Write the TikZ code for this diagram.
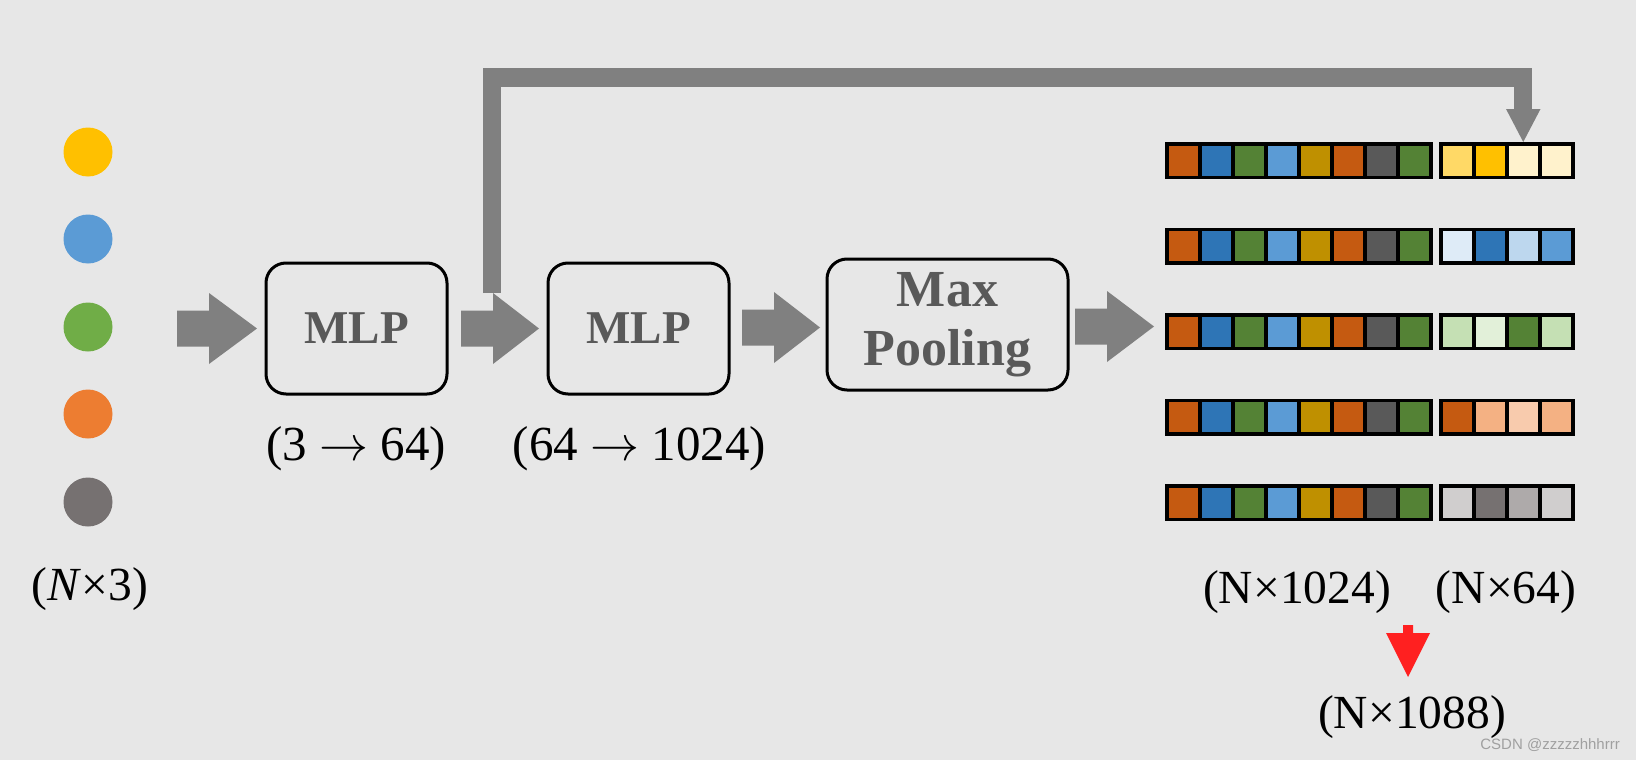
\RequirePackage{fix-cm}
\documentclass[tikz,border=0pt]{standalone}
\usepackage{fontspec}
\setmainfont{Liberation Serif}
\newfontfamily\wmfont{Liberation Sans}
\usetikzlibrary{calc}
\definecolor{bg}{HTML}{E7E7E7}
\definecolor{arrowgray}{HTML}{808080}
\definecolor{boxtext}{HTML}{595959}
\definecolor{cO}{HTML}{C55A11}
\definecolor{cB}{HTML}{2E75B6}
\definecolor{cG}{HTML}{548235}
\definecolor{cLB}{HTML}{5B9BD5}
\definecolor{cGo}{HTML}{BF9000}
\definecolor{cDG}{HTML}{595959}
\definecolor{ya}{HTML}{FFD966}
\definecolor{yb}{HTML}{FFC000}
\definecolor{yc}{HTML}{FFF2CC}
\definecolor{ba}{HTML}{DEEBF7}
\definecolor{bb}{HTML}{BDD7EE}
\definecolor{ga}{HTML}{C5E0B4}
\definecolor{gb}{HTML}{E2F0D9}
\definecolor{oa}{HTML}{F4B183}
\definecolor{ob}{HTML}{F8CBAD}
\definecolor{ka}{HTML}{D0CECE}
\definecolor{kb}{HTML}{767171}
\definecolor{kc}{HTML}{AEAAAA}
\definecolor{dY}{HTML}{FFC000}
\definecolor{dB}{HTML}{5B9BD5}
\definecolor{dG}{HTML}{70AD47}
\definecolor{dO}{HTML}{ED7D31}
\definecolor{dK}{HTML}{767171}
\definecolor{redarrow}{HTML}{FF2020}
\definecolor{wm}{HTML}{A0A0A0}
\tikzset{
  procbox/.style={draw=black, line width=3pt, rounded corners=20pt, minimum height=131pt,
    align=center, text=boxtext, inner sep=0pt},
  boxfont/.style={font=\fontsize{47}{56}\selectfont\bfseries},
  dot/.style={circle, minimum size=49pt, inner sep=0pt},
  lbl/.style={font=\fontsize{47.5}{56}\selectfont, text=black, anchor=base, inner sep=0pt},
  mlbl/.style={lbl, font=\fontsize{49}{58}\selectfont},
}
\newcommand\blockarrow[4]{% tail x, head base x, tip x, centre y
  \fill[arrowgray] (#1,#4-18) -- (#2,#4-18) -- (#2,#4-35.5) -- (#3,#4) -- (#2,#4+35.5)
    -- (#2,#4+18) -- (#1,#4+18) -- cycle;}
\newcommand\featrow[5]{%
  \fill[black] (1165,#1) rectangle (1432.5,#1+37);
  \foreach \c [count=\k from 0] in {cO,cB,cG,cLB,cGo,cO,cDG,cG}
    \fill[\c] (1168.5+33*\k,#1+3.5) rectangle (1198+33*\k,#1+33.5);
  \fill[black] (1439,#1) rectangle (1574.5,#1+37);
  \foreach \c [count=\k from 0] in {#2,#3,#4,#5}
    \fill[\c] (1442.5+33*\k,#1+3.5) rectangle (1472+33*\k,#1+33.5);}
\begin{document}
\begin{tikzpicture}[x=1pt,y=-1pt]
\useasboundingbox (0,0) rectangle (1636,760);
\fill[bg] (0,0) rectangle (1636,760);

% input points
\node[dot, fill=dY] (d1) at (88,152) {};
\node[dot, fill=dB] (d2) at (88,239) {};
\node[dot, fill=dG] (d3) at (88,327) {};
\node[dot, fill=dO] (d4) at (88,414) {};
\node[dot, fill=dK] (d5) at (88,502) {};
\node[lbl] (lin) at (90,600) {(\textit{N}×3)};

% boxes
\node[procbox, boxfont, minimum width=181pt] (mlp1) at (356.5,328.5) {MLP};
\node[procbox, boxfont, minimum width=181pt] (mlp2) at (638.5,328.5) {MLP};
\node[procbox, minimum width=241pt, font=\fontsize{52}{59}\selectfont\bfseries] (pool) at (947.5,324.5) {Max\\Pooling};

\node[mlbl] (l1) at (356,460) {(3 $\rightarrow$ 64)};
\node[mlbl] (l2) at (639.5,460) {(64 $\rightarrow$ 1024)};

% block arrows
\blockarrow{177}{209}{257}{328.5}
\blockarrow{461}{493}{539}{328.5}
\blockarrow{742}{774}{820}{327.5}
\blockarrow{1075}{1107}{1154}{326.5}

% skip connection
\coordinate (skipstart) at (492,293);
\coordinate (skipend) at (1523.25,110);
\draw[arrowgray, line width=18pt, line join=miter] (skipstart) |- (1523.25,77.5) -- (skipend);
\fill[arrowgray] (1506,109) -- (1540.5,109) -- (1523.25,142) -- cycle;

% feature rows
\featrow{142}{ya}{yb}{yc}{yc}
\featrow{227.5}{ba}{cB}{bb}{cLB}
\featrow{313}{ga}{gb}{cG}{ga}
\featrow{398.5}{cO}{oa}{ob}{oa}
\featrow{484}{ka}{kb}{kc}{ka}

\node[lbl] (l3) at (1297,603) {(N×1024)};
\node[lbl] (l4) at (1506,603) {(N×64)};

% red arrow
\fill[redarrow] (1403,625) -- (1413,625) -- (1413,633) -- (1430,633) -- (1408,677)
  -- (1386,633) -- (1403,633) -- cycle;
\node[lbl] (l5) at (1412,728) {(N×1088)};

\node[font=\wmfont\fontsize{15}{18}\selectfont, text=wm, anchor=base east, inner sep=0pt] (wmk) at (1620,749) {CSDN @zzzzzhhhrrr};
\end{tikzpicture}
\end{document}
